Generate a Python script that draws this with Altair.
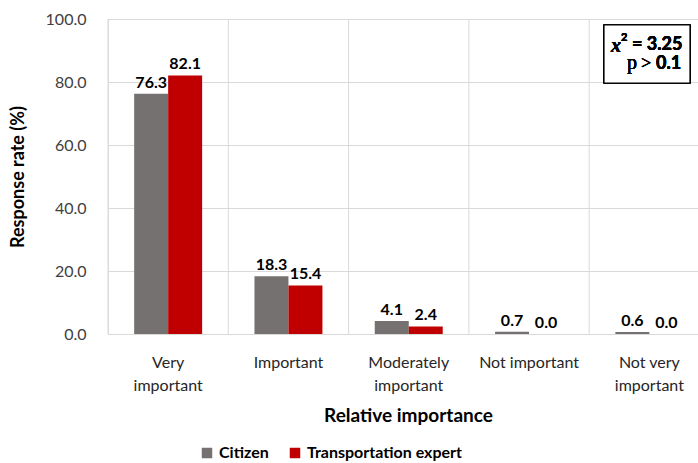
import altair as alt
import pandas as pd

# Survey results: share of respondents per importance level
categories = ["Very important", "Important", "Moderately important",
              "Not important", "Not very important"]
groups = ["Citizen", "Transportation expert"]
citizen = [76.3, 18.3, 4.1, 0.7, 0.6]
expert = [82.1, 15.4, 2.4, 0.0, 0.0]
y_ticks = [0, 20, 40, 60, 80, 100]
colors = ["#767171", "#C00000"]

rows = []
for c, a, b in zip(categories, citizen, expert):
    rows.append({"cat": c, "group": groups[0], "value": a})
    rows.append({"cat": c, "group": groups[1], "value": b})
df = pd.DataFrame(rows)
cat_df = pd.DataFrame({"cat": categories})

FONT = "Lato"
W, H = 590, 315
STEP_RANGE = [0, 601.5]

label_expr = (
    "datum.value == 'Very important' ? ['Very', 'important'] : "
    "datum.value == 'Moderately important' ? ['Moderately', 'important'] : "
    "datum.value == 'Not very important' ? ['Not very', 'important'] : datum.value"
)

x_enc = alt.X(
    "cat:N", sort=categories,
    scale=alt.Scale(domain=categories, range=STEP_RANGE, paddingInner=0, paddingOuter=0),
    axis=alt.Axis(
        title="Relative importance", labelExpr=label_expr, labelAngle=0,
        labelAlign="center", labelBaseline="top",
        labelFont=FONT, labelFontSize=16, labelColor="#262626", labelLineHeight=23,
        labelPadding=20, domain=False, ticks=False, grid=False,
        titleFont=FONT, titleFontSize=19, titleFontWeight="bold", titleColor="#000000",
        titlePadding=13, titleX=300,
    ),
)

y_enc = alt.Y(
    "value:Q",
    scale=alt.Scale(domain=[0, 100], nice=False),
    axis=alt.Axis(
        title="Response rate (%)", values=y_ticks, format=".1f",
        labelFont=FONT, labelFontSize=16, labelColor="#404040", labelPadding=22,
        domain=False, ticks=False, grid=True, gridColor="#D9D9D9",
        titleFont=FONT, titleFontSize=18, titleFontWeight="bold", titleColor="#000000",
        titlePadding=18,
    ),
)

xoff = alt.XOffset(
    "group:N", sort=groups,
    scale=alt.Scale(domain=groups, paddingInner=0, paddingOuter=0.77),
)

bars = alt.Chart(df).mark_bar().encode(
    x=x_enc,
    xOffset=xoff,
    y=y_enc,
    color=alt.Color(
        "group:N", sort=groups,
        scale=alt.Scale(domain=groups, range=colors),
        legend=alt.Legend(
            title=None, orient="none", direction="horizontal",
            legendX=91, legendY=426, symbolType="square", symbolSize=110,
            symbolStrokeWidth=0, labelFont=FONT, labelFontSize=16,
            labelFontWeight="bold", labelColor="#000000", columnPadding=18,
            symbolOffset=0, labelOffset=4,
        ),
    ),
)

values = alt.Chart(df).mark_text(
    font=FONT, fontSize=16, fontWeight="bold", color="#000000",
    baseline="bottom", dy=-3,
).encode(
    x=alt.X("cat:N", sort=categories),
    xOffset=xoff,
    y="value:Q",
    text=alt.Text("value:Q", format=".1f"),
)

# vertical separators at category boundaries
separators = alt.Chart(cat_df).mark_rule(color="#D9D9D9", strokeWidth=1).encode(
    x=alt.X("cat:N", sort=categories, bandPosition=0),
)

# statistics box
box = alt.Chart(cat_df).mark_rect(
    fill="white", stroke="#000000", strokeWidth=1.2
).encode(
    x=alt.value(496), x2=alt.value(582), y=alt.value(6), y2=alt.value(64)
)


def stat_text(text, x, y, font=FONT, size=18, weight="bold", style="normal"):
    return alt.Chart(cat_df).mark_text(
        text=text, font=font, fontSize=size, fontWeight=weight, fontStyle=style,
        align="left", baseline="middle", color="#000000",
    ).encode(x=alt.value(x), y=alt.value(y))


stats = [
    stat_text("x", 503, 27, font="Liberation Serif", size=20, style="italic"),
    stat_text("2", 513, 19, size=11),
    stat_text("= 3.25", 524, 26),
    stat_text("p", 519, 44, font="Liberation Serif", size=20, weight="normal"),
    stat_text(">", 533, 45, font="Liberation Serif", size=18, weight="normal"),
    stat_text("0.1", 548, 45),
]

chart = alt.layer(
    separators, bars, values, box, *stats
).properties(
    width=W, height=H,
    autosize=alt.AutoSizeParams(type="none"),
    padding={"left": 108, "top": 19, "right": 0, "bottom": 129},
).configure_view(stroke=None).configure(background="white")

chart.save("out.html", embed_options={"renderer": "svg", "actions": False})
